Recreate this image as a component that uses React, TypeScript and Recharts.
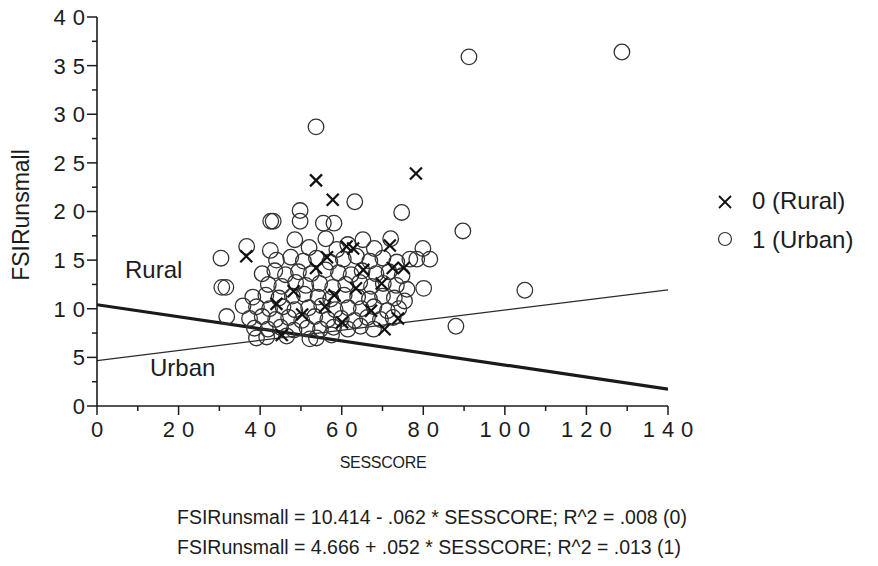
import React from 'react';
import { ComposedChart, Scatter, Line, XAxis, YAxis } from 'recharts';

const FONT = '"Liberation Sans", Arial, Helvetica, sans-serif';

const xTicks = [0, 10, 20, 30, 40, 50, 60, 70, 80, 90, 100, 110, 120, 130, 140];
const yTicks = [0, 2.5, 5, 7.5, 10, 12.5, 15, 17.5, 20, 22.5, 25, 27.5, 30, 32.5, 35, 37.5, 40];

const ruralPoints: [number, number][] = [
  [36.6, 15.4], [53.7, 23.2], [57.8, 21.2], [78.2, 23.9], [61.2, 16.4], [62.8, 16.2],
  [71.8, 16.5], [72.5, 14.2], [75.2, 14.2], [53.7, 14.2], [45.3, 7.3], [73.8, 9.0],
  [55.9, 10.2], [63.5, 12.1], [67.2, 9.8], [58.2, 11.4], [50.3, 9.4], [65.3, 14.0],
  [69.8, 12.6], [60.1, 8.6], [48.2, 11.8], [56.4, 15.3], [44.0, 10.5], [70.5, 7.9],
];

const urbanPoints: [number, number][] = [
  [91.2, 35.9], [128.7, 36.4], [53.7, 28.7], [63.2, 21.0], [74.7, 19.9], [49.8, 20.1],
  [49.8, 19.0], [42.6, 19.0], [43.2, 19.0], [55.5, 18.8], [58.1, 18.8], [48.5, 17.1],
  [89.7, 18.0], [36.7, 16.4], [30.4, 15.2], [30.6, 12.2], [31.6, 12.2], [104.9, 11.9],
  [80.1, 12.1], [88.0, 8.2], [31.8, 9.2], [79.9, 16.2], [78.4, 15.1], [81.6, 15.1],
  [56.1, 17.2], [65.2, 17.1], [72.0, 17.2],
  [42.5, 16.0], [52.0, 16.3], [58.8, 16.1], [61.5, 16.6], [68.0, 16.2],
  [44.0, 15.0], [47.5, 15.3], [50.6, 14.9], [53.8, 15.2], [57.1, 14.8], [60.4, 15.1],
  [63.6, 15.4], [66.9, 14.9], [70.1, 15.2], [73.5, 14.8], [76.7, 15.1],
  [40.5, 13.6], [43.6, 13.9], [46.2, 13.5], [49.4, 13.8], [52.5, 13.6], [56.0, 14.0],
  [59.2, 13.7], [62.3, 13.5], [65.0, 13.9], [68.4, 13.6], [71.6, 13.8], [74.8, 13.4],
  [42.0, 12.5], [45.3, 12.3], [48.7, 12.7], [51.2, 12.4], [54.6, 12.6], [57.8, 12.2],
  [61.0, 12.5], [64.4, 12.7], [67.3, 12.3], [70.2, 12.6], [73.4, 12.4], [76.0, 12.0],
  [38.2, 11.2], [41.4, 11.4], [44.6, 11.1], [47.9, 11.3], [50.8, 11.5], [54.2, 11.2],
  [57.3, 11.0], [60.6, 11.4], [63.9, 11.2], [66.8, 11.0], [70.0, 11.3], [72.9, 11.1], [75.4, 10.8],
  [35.8, 10.3], [39.1, 10.2], [42.3, 10.0], [45.6, 10.2], [48.5, 9.9], [51.9, 10.1],
  [55.1, 10.3], [58.4, 9.9], [61.6, 10.1], [64.8, 10.0], [67.9, 10.2], [71.2, 9.8], [74.0, 10.0],
  [37.4, 9.0], [40.5, 9.2], [43.8, 8.9], [47.0, 9.1], [50.2, 8.8], [53.4, 9.2],
  [56.6, 8.9], [59.9, 9.0], [63.2, 8.8], [66.3, 9.1], [69.5, 8.9], [72.6, 9.1],
  [38.6, 8.0], [41.9, 7.9], [45.0, 8.1], [48.3, 7.8], [51.5, 8.0], [54.8, 7.9],
  [58.0, 8.1], [61.5, 7.9], [64.6, 8.2], [67.8, 7.9],
  [39.1, 7.0], [41.6, 7.1], [46.5, 7.2], [52.2, 6.9], [53.8, 7.0], [57.5, 7.3],
];

// regression lines read from the printed equations (values at x = 0 and x = 140)
const ruralFit = [{ x: 0, y: 10.414 }, { x: 140, y: 1.734 }];
const urbanFit = [{ x: 0, y: 4.666 }, { x: 140, y: 11.946 }];

const equations = [
  'FSIRunsmall = 10.414 - .062 * SESSCORE; R^2 = .008 (0)',
  'FSIRunsmall = 4.666 + .052 * SESSCORE; R^2 = .013 (1)',
];

const rural = ruralPoints.map(([x, y]) => ({ x, y }));
const urban = urbanPoints.map(([x, y]) => ({ x, y }));

const INK = '#1c1c1c';
const TICK_FONT = 22;
const SPACING = 7;
const DIGIT = 0.556;

// digits laid out one by one with wide spacing, as in the original print
const SpacedNumber = ({ x, y, text, anchor }: { x: number; y: number; text: string; anchor: 'middle' | 'end' }) => {
  const adv = DIGIT * TICK_FONT + SPACING;
  const total = text.length * DIGIT * TICK_FONT + (text.length - 1) * SPACING;
  const start = anchor === 'middle' ? x - total / 2 : x - total;
  return (
    <text y={y} dy="0.36em" fontSize={TICK_FONT} fontFamily={FONT} fill={INK}>
      {text.split('').map((c, i) => (
        <tspan key={i} x={start + i * adv}>{c}</tspan>
      ))}
    </text>
  );
};

const CircleShape = (p: any) => (
  <circle cx={p.cx} cy={p.cy} r={7.8} fill="none" stroke="#333" strokeWidth={1.3} />
);
const CrossShape = (p: any) => {
  const s = 6;
  return (
    <g stroke="#111" strokeWidth={2.2}>
      <line x1={p.cx - s} y1={p.cy - s} x2={p.cx + s} y2={p.cy + s} />
      <line x1={p.cx - s} y1={p.cy + s} x2={p.cx + s} y2={p.cy - s} />
    </g>
  );
};

const BottomTick = (p: any) => {
  const v = p.payload.value;
  const major = v % 20 === 0;
  return (
    <g>
      <line x1={p.x} y1={p.y} x2={p.x} y2={p.y + (major ? 9 : 5)} stroke={INK} strokeWidth={1.5} />
      {major && <SpacedNumber x={p.x} y={p.y + 23} text={String(v)} anchor="middle" />}
    </g>
  );
};
const TopTick = (p: any) => {
  const major = p.payload.value % 20 === 0;
  return <line x1={p.x} y1={p.y} x2={p.x} y2={p.y - (major ? 9 : 5)} stroke={INK} strokeWidth={1.5} />;
};
const LeftTick = (p: any) => {
  const v = p.payload.value;
  const major = v % 5 === 0;
  return (
    <g>
      <line x1={p.x} y1={p.y} x2={p.x - (major ? 10 : 5)} y2={p.y} stroke={INK} strokeWidth={1.5} />
      {major && <SpacedNumber x={p.x - 12} y={p.y} text={String(v)} anchor="end" />}
    </g>
  );
};
const RightTick = (p: any) => {
  const major = p.payload.value % 5 === 0;
  return <line x1={p.x} y1={p.y} x2={p.x + (major ? 9 : 5)} y2={p.y} stroke={INK} strokeWidth={1.5} />;
};

const textStyle: React.CSSProperties = {
  position: 'absolute',
  fontFamily: FONT,
  color: INK,
  whiteSpace: 'nowrap',
  lineHeight: 1,
};

export default function App() {
  return (
    <div style={{ position: 'relative', left: -8, top: -8, width: 878, height: 566, background: '#fff' }}>
      <ComposedChart width={878} height={566} margin={{ top: 17, right: 210, bottom: 130, left: 0 }}>
        <XAxis xAxisId="b" dataKey="x" type="number" domain={[0, 140]} ticks={xTicks} interval={0}
          allowDataOverflow tickSize={0} tickMargin={0} tickLine={false} tick={<BottomTick />}
          axisLine={{ stroke: INK, strokeWidth: 1.6 }} height={30} orientation="bottom" />
        <XAxis xAxisId="t" dataKey="x" type="number" domain={[0, 140]} ticks={xTicks} interval={0}
          allowDataOverflow tickSize={0} tickMargin={0} tickLine={false} tick={<TopTick />}
          axisLine={{ stroke: INK, strokeWidth: 2.2 }} height={0} orientation="top" />
        <YAxis yAxisId="l" dataKey="y" type="number" domain={[0, 40]} ticks={yTicks} interval={0}
          allowDataOverflow tickSize={0} tickMargin={0} tickLine={false} tick={<LeftTick />}
          axisLine={{ stroke: INK, strokeWidth: 1.6 }} width={97} orientation="left" />
        <YAxis yAxisId="r" dataKey="y" type="number" domain={[0, 40]} ticks={yTicks} interval={0}
          allowDataOverflow tickSize={0} tickMargin={0} tickLine={false} tick={<RightTick />}
          axisLine={{ stroke: INK, strokeWidth: 1.6 }} width={0} orientation="right" />
        <Scatter xAxisId="b" yAxisId="l" data={urban} shape={<CircleShape />} isAnimationActive={false} />
        <Scatter xAxisId="b" yAxisId="l" data={rural} shape={<CrossShape />} isAnimationActive={false} />
        <Line xAxisId="b" yAxisId="l" data={ruralFit} dataKey="y" type="linear" dot={false}
          stroke="#1a1a1a" strokeWidth={3.2} isAnimationActive={false} activeDot={false} />
        <Line xAxisId="b" yAxisId="l" data={urbanFit} dataKey="y" type="linear" dot={false}
          stroke="#2a2a2a" strokeWidth={1.3} isAnimationActive={false} activeDot={false} />
      </ComposedChart>

      <div style={{ ...textStyle, left: 21, top: 215, fontSize: 23, transform: 'translate(-50%, -50%) rotate(-90deg)' }}>
        FSIRunsmall
      </div>
      <div style={{ ...textStyle, left: 383, top: 463, fontSize: 16, transform: 'translate(-50%, -50%)', letterSpacing: -0.3 }}>
        SESSCORE
      </div>
      <div style={{ ...textStyle, left: 177, top: 518, fontSize: 19.5, transform: 'translateY(-50%)' }}>{equations[0]}</div>
      <div style={{ ...textStyle, left: 177, top: 548, fontSize: 19.5, transform: 'translateY(-50%)' }}>{equations[1]}</div>

      <div style={{ ...textStyle, left: 125, top: 270, fontSize: 24, transform: 'translateY(-50%)' }}>Rural</div>
      <div style={{ ...textStyle, left: 150, top: 368, fontSize: 24, transform: 'translateY(-50%)' }}>Urban</div>

      <svg style={{ position: 'absolute', left: 709, top: 186 }} width={30} height={70}>
        <g stroke="#111" strokeWidth={1.8}>
          <line x1={10} y1={10} x2={22} y2={22} />
          <line x1={10} y1={22} x2={22} y2={10} />
        </g>
        <circle cx={16} cy={53} r={6.5} fill="none" stroke="#333" strokeWidth={1.2} />
      </svg>
      <div style={{ ...textStyle, left: 752, top: 201, fontSize: 24, transform: 'translateY(-50%)' }}>0 (Rural)</div>
      <div style={{ ...textStyle, left: 752, top: 240, fontSize: 24, transform: 'translateY(-50%)' }}>1 (Urban)</div>
    </div>
  );
}
